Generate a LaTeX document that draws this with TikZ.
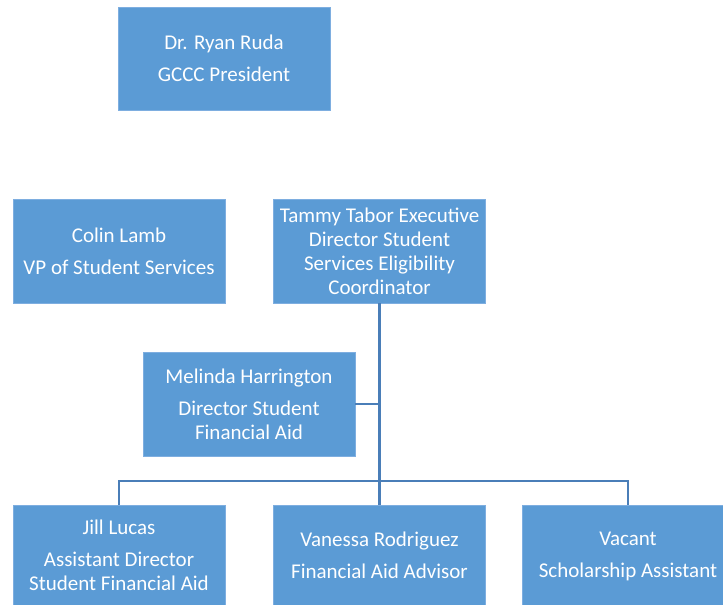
\documentclass[tikz,border=0pt]{standalone}
\usepackage{fontspec}
\setmainfont{Carlito}
\usepackage{tikz}

\definecolor{boxfill}{HTML}{5B9BD5}
\definecolor{boxedge}{HTML}{7EAEE0}
\definecolor{linkcol}{HTML}{4A7EB8}

\tikzset{
    person/.style={rectangle, draw=boxedge, line width=0.8pt, fill=boxfill, text=white,
        minimum width=212pt, minimum height=104pt, align=center, inner sep=0pt,
        font=\fontsize{21}{24}\selectfont, text depth=0pt},
    link/.style={draw=linkcol, line width=2.6pt}
}
\newcommand{\gap}{\\[8pt]}

\begin{document}
\begin{tikzpicture}[x=1pt, y=1pt]
        \useasboundingbox (0,0) rectangle (723,-605);
        \node [person, minimum height=103pt] (ruda) at (224,-58.5) {Dr. Ryan Ruda\gap GCCC President};
        \node [person] (lamb) at (119,-251) {Colin Lamb\gap VP of Student Services};
        \node [person] (tabor) at (379.5,-251) {Tammy Tabor Executive\\Director Student\\Services Eligibility\\Coordinator};
        \node [person] (harrington) at (249,-404) {Melinda Harrington\gap Director Student\\Financial Aid};
        \node [person, minimum height=100pt] (lucas) at (119,-555) {Jill Lucas\gap Assistant Director\\Student Financial Aid};
        \node [person, minimum height=100pt] (rodriguez) at (379.5,-555) {Vanessa Rodriguez\gap Financial Aid Advisor};
        \node [person, minimum height=100pt] (vacant) at (628,-555) {Vacant\gap Scholarship Assistant};
        \coordinate (bus) at (379.5,-481);
        \draw [link] (tabor) to (rodriguez);
        \draw [link] (harrington.east) to (harrington.east -| tabor.south);
        \draw [link] (lucas.north) |- (bus) -| (vacant.north);
    \end{tikzpicture}
\end{document}
